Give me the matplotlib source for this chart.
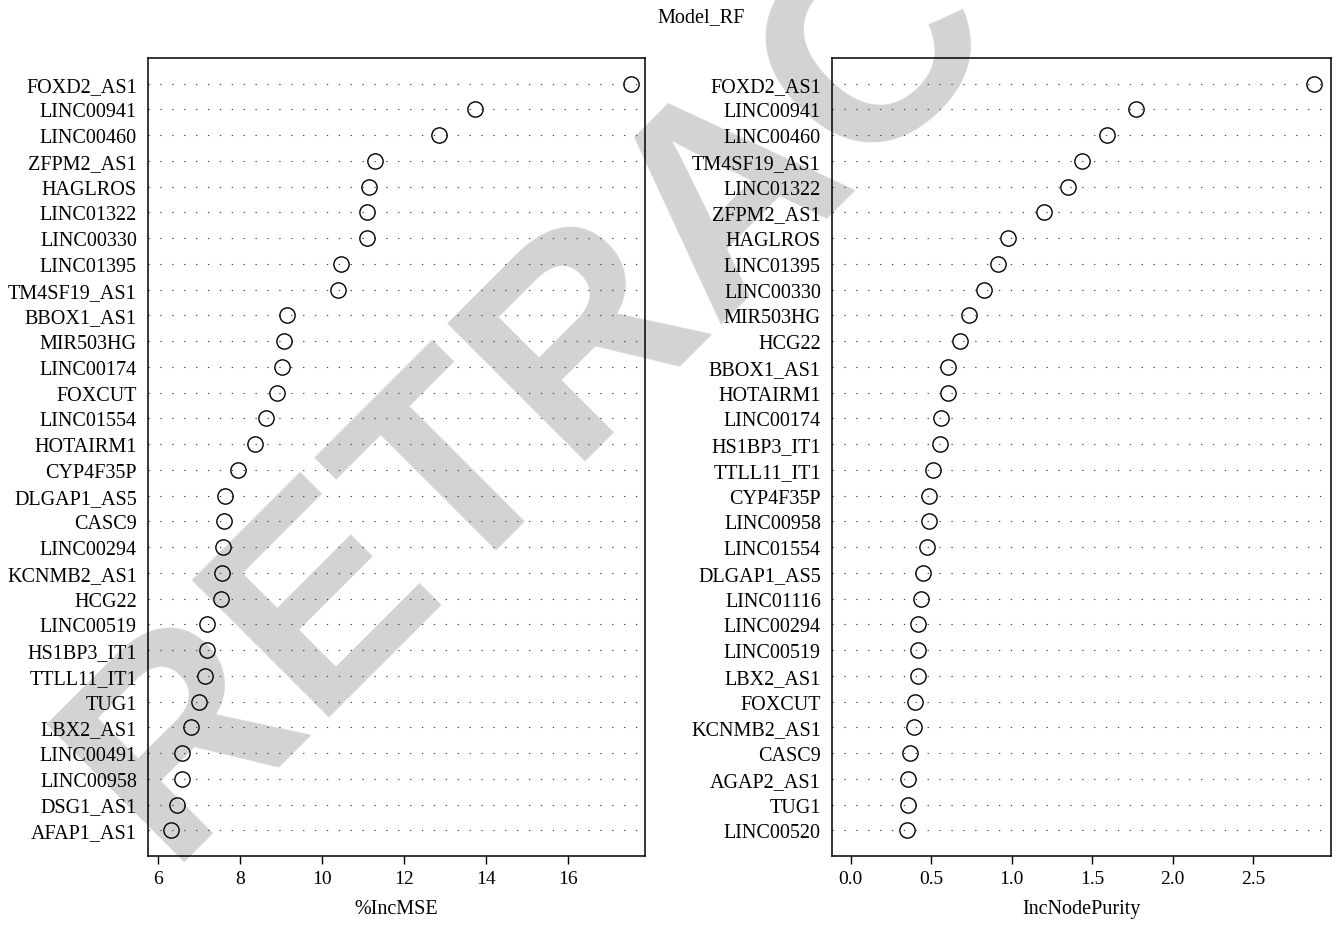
import matplotlib
matplotlib.use('Agg')
import matplotlib.pyplot as plt
from matplotlib.ticker import FormatStrFormatter
import numpy as np

# %IncMSE panel, top to bottom
mse_genes = ['FOXD2_AS1', 'LINC00941', 'LINC00460', 'ZFPM2_AS1', 'HAGLROS',
             'LINC01322', 'LINC00330', 'LINC01395', 'TM4SF19_AS1', 'BBOX1_AS1',
             'MIR503HG', 'LINC00174', 'FOXCUT', 'LINC01554', 'HOTAIRM1',
             'CYP4F35P', 'DLGAP1_AS5', 'CASC9', 'LINC00294', 'KCNMB2_AS1',
             'HCG22', 'LINC00519', 'HS1BP3_IT1', 'TTLL11_IT1', 'TUG1',
             'LBX2_AS1', 'LINC00491', 'LINC00958', 'DSG1_AS1', 'AFAP1_AS1']
mse_vals = [17.56, 13.73, 12.85, 11.30, 11.16,
            11.11, 11.09, 10.47, 10.40, 9.15,
            9.06, 9.03, 8.89, 8.64, 8.37,
            7.94, 7.64, 7.61, 7.58, 7.56,
            7.54, 7.19, 7.19, 7.14, 6.99,
            6.81, 6.59, 6.58, 6.46, 6.30]

# IncNodePurity panel, top to bottom
purity_genes = ['FOXD2_AS1', 'LINC00941', 'LINC00460', 'TM4SF19_AS1', 'LINC01322',
                'ZFPM2_AS1', 'HAGLROS', 'LINC01395', 'LINC00330', 'MIR503HG',
                'HCG22', 'BBOX1_AS1', 'HOTAIRM1', 'LINC00174', 'HS1BP3_IT1',
                'TTLL11_IT1', 'CYP4F35P', 'LINC00958', 'LINC01554', 'DLGAP1_AS5',
                'LINC01116', 'LINC00294', 'LINC00519', 'LBX2_AS1', 'FOXCUT',
                'KCNMB2_AS1', 'CASC9', 'AGAP2_AS1', 'TUG1', 'LINC00520']
purity_vals = [2.880, 1.770, 1.590, 1.440, 1.350,
               1.200, 0.980, 0.917, 0.830, 0.737,
               0.679, 0.602, 0.602, 0.561, 0.553,
               0.512, 0.486, 0.483, 0.475, 0.446,
               0.438, 0.420, 0.417, 0.415, 0.400,
               0.394, 0.365, 0.355, 0.355, 0.350]

mse_ticks = [6, 8, 10, 12, 14, 16]
purity_ticks = [0.0, 0.5, 1.0, 1.5, 2.0, 2.5]

plt.rcParams['font.family'] = ['Liberation Serif', 'DejaVu Serif']

W, H = 1340, 928
fig = plt.figure(figsize=(W / 100, H / 100), dpi=100)

ax1 = fig.add_axes([148 / W, 71 / H, 497 / W, 798 / H])
ax2 = fig.add_axes([832 / W, 71 / H, 499 / W, 798 / H])


def dotchart(ax, genes, vals, xlim, ticks, xlabel, fmt=None):
    n = len(genes)
    ypos = np.arange(n, 0, -1)
    ax.set_facecolor('none')
    for y in ypos:
        ax.axhline(y, color='#444444', lw=0.8, dashes=(1.2, 9.5), zorder=1)
    ax.plot(vals, ypos, 'o', ms=11, mfc='none', mec='black', mew=1.0, zorder=3)
    ax.set_xlim(xlim)
    ax.set_ylim(0, n + 1)
    ax.set_yticks(ypos)
    ax.set_yticklabels(genes)
    ax.set_xticks(ticks)
    if fmt:
        ax.xaxis.set_major_formatter(FormatStrFormatter(fmt))
    ax.tick_params(axis='x', direction='out', length=6, width=1, labelsize=14, pad=4)
    ax.tick_params(axis='y', length=0, labelsize=14.5, pad=8)
    ax.set_xlabel(xlabel, fontsize=14.5, labelpad=9)
    for s in ax.spines.values():
        s.set_linewidth(1.1)


dotchart(ax1, mse_genes, mse_vals, (5.75, 17.89), mse_ticks, '%IncMSE')
dotchart(ax2, purity_genes, purity_vals, (-0.117, 2.985), purity_ticks,
         'IncNodePurity', fmt='%.1f')

fig.text(701 / W, 1 - 18 / H, 'Model_RF', ha='center', va='center', fontsize=14.5)

# watermark
fig.text(166 / W, 1 - 862 / H, 'RETRACTED', rotation=45, rotation_mode='anchor',
         ha='left', va='baseline', fontsize=204, fontweight='bold',
         family=['Liberation Sans', 'DejaVu Sans'], color='#d3d3d3', zorder=-1)

fig.savefig('out.png', dpi=100)
